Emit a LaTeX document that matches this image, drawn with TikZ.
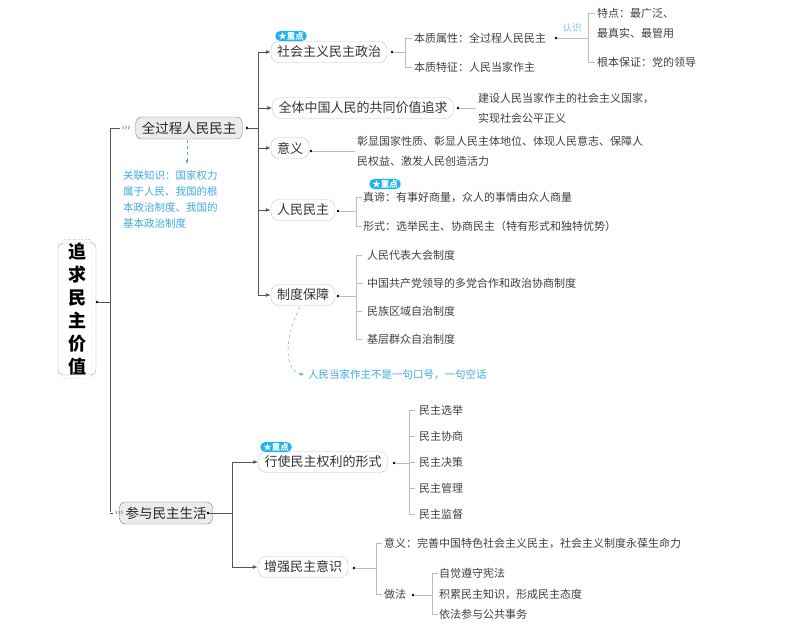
\documentclass[tikz,border=0pt]{standalone}
\usepackage{fontspec}
\setmainfont{Noto Sans CJK SC}
\usetikzlibrary{arrows.meta,positioning}
\definecolor{ln}{HTML}{555555}
\definecolor{lt}{HTML}{BBBBBB}
\definecolor{cy}{HTML}{3FA9E0}
\definecolor{badge}{HTML}{1EB4EC}
\tikzset{
 main/.style={draw=ln!80,fill=gray!15,rounded corners=6pt,font=\fontsize{13.5}{15}\selectfont,inner xsep=6pt,inner ysep=2pt,minimum height=22pt,text=black!85},
 sub/.style={draw=gray!45,fill=white,rounded corners=8pt,font=\fontsize{13}{15}\selectfont,inner xsep=6pt,inner ysep=1pt,minimum height=21pt,text=black!80},
 leaf/.style={anchor=west,font=\fontsize{11}{12}\selectfont,text=black!75,inner sep=1pt},
 tw/.style={leaf,align=left,font=\fontsize{11}{20}\selectfont},
 note/.style={anchor=west,font=\fontsize{10.5}{16}\selectfont,text=cy,align=left,inner sep=0pt},
 badgest/.style={fill=badge,text=white,rounded corners=5pt,font=\bfseries\fontsize{8.5}{9}\selectfont,inner xsep=3pt,inner ysep=1pt},
 trunk/.style={draw=ln,line width=0.9pt},
 arr/.style={trunk,-{Latex[length=5pt,width=4pt]}},
 br/.style={draw=lt,line width=0.6pt},
 dotc/.style={fill=black,circle,inner sep=0.9pt},
}
\begin{document}
\begin{tikzpicture}[x=1pt,y=-1pt]
\useasboundingbox (0,0) rectangle (811,625);
% root
\node[draw=gray!70,rounded corners=5pt,minimum width=38pt,minimum height=132pt,fill=white] (rootbox) at (77,309) {};
\node[draw=black!70,dotted,rounded corners=3pt,minimum width=30pt,minimum height=124pt,align=center,font=\bfseries\fontsize{18}{23}\selectfont] (root) at (77,309) {追\\求\\民\\主\\价\\值};
\node[dotc] (rd) at (97,302) {};
% main nodes
\node[main] (m1) at (189,128) {全过程人民民主};
\node[main] (m2) at (166,513) {参与民主生活};
\draw[trunk] (rd) -- (110,302);
\draw[trunk] (110,128) -- (110,512);
\draw[trunk] (110,128) -- (120,128);
\draw[trunk] (110,513) -- (113,513);
\node[font=\fontsize{9}{9}\selectfont,text=ln] at (126,128) {›››};
\node[font=\fontsize{9}{9}\selectfont,text=ln] at (119,513) {›››};
% level 2 under m1
\node[sub] (a1) at (329,52) {社会主义民主政治};
\node[sub] (a2) at (363,108) {全体中国人民的共同价值追求};
\node[sub] (a3) at (290,148) {意义};
\node[sub] (a4) at (303,210) {人民民主};
\node[sub] (a5) at (303,295) {制度保障};
\node[dotc] (m1d) at (247,128) {};
\draw[trunk] (m1d) -- (258,128);
\draw[trunk] (258,52) -- (258,295);
\foreach \n in {a1,a2,a3,a4,a5}{\draw[arr] (258,0 |- \n.west) -- (\n.west);}
\node[badgest] at (291,36) {★重点};
\node[badgest] at (385,184) {★重点};
% a1 leaves
\node[dotc] (a1d) at (392,52) {};
\draw[br] (a1d) -- (405,52);
\draw[br] (412,38) -- (405,38) -- (405,67) -- (412,67);
\node[leaf] (b1) at (413,38) {本质属性：全过程人民民主};
\node[leaf] (b2) at (413,67) {本质特征：人民当家作主};
\node[dotc] (b1d) at (556,38) {};
\draw[br] (b1d) -- (588,38);
\node[font=\fontsize{9.5}{10}\selectfont,text=cy!70] at (572,28) {认识};
\draw[br] (595,13) -- (588,13) -- (588,62) -- (595,62);
\node[tw] (c1) at (596,23) {特点：最广泛、\\最真实、最管用};
\node[leaf] (c2) at (596,62) {根本保证：党的领导};
% a2
\node[dotc] (a2d) at (458,108) {};
\draw[br] (a2d) -- (476,108);
\node[tw] (a2t) at (477,108) {建设人民当家作主的社会主义国家，\\实现社会公平正义};
% a3
\node[dotc] (a3d) at (311,151) {};
\draw[br] (a3d) -- (355,151);
\node[tw] (a3t) at (356,151) {彰显国家性质、彰显人民主体地位、体现人民意志、保障人\\民权益、激发人民创造活力};
% a4
\node[dotc] (a4d) at (338,211) {};
\draw[br] (a4d) -- (356,211);
\draw[br] (362,197) -- (356,197) -- (356,226) -- (362,226);
\node[leaf] at (362,197) {真谛：有事好商量，众人的事情由众人商量};
\node[leaf] at (362,226) {形式：选举民主、协商民主（特有形式和独特优势）};
% a5
\node[dotc] (a5d) at (338,296) {};
\draw[br] (a5d) -- (356,296);
\draw[br] (362,255) -- (356,255) -- (356,339) -- (362,339);
\draw[br] (356,283) -- (362,283); \draw[br] (356,311) -- (362,311);
\node[leaf] at (366,255) {人民代表大会制度};
\node[leaf] at (366,283) {中国共产党领导的多党合作和政治协商制度};
\node[leaf] at (366,311) {民族区域自治制度};
\node[leaf] at (366,339) {基层群众自治制度};
% notes
\draw[cy,dashed,-{Latex[length=4pt,width=3pt]}] (187,140) -- (187,164);
\node[note] (n1) at (123,199) {关联知识：国家权力\\属于人民、我国的根\\本政治制度、我国的\\基本政治制度};
\draw[cy,dashed,-{Latex[length=4pt,width=3pt]}] (300,307) .. controls (283,340) and (285,370) .. (304,375);
\node[note] (n2) at (308,375) {人民当家作主不是一句口号，一句空话};
% level 2 under m2
\node[sub] (d1) at (323,462) {行使民主权利的形式};
\node[sub] (d2) at (303,567) {增强民主意识};
\node[dotc] (m2d) at (208,513) {};
\draw[trunk] (m2d) -- (232,513);
\draw[trunk] (232,462) -- (232,567);
\foreach \n in {d1,d2}{\draw[arr] (232,0 |- \n.west) -- (\n.west);}
\node[badgest] at (276,447) {★重点};
\node[dotc] (d1d) at (394,463) {};
\draw[br] (d1d) -- (409,463);
\draw[br] (415,410) -- (409,410) -- (409,514) -- (415,514);
\foreach \y/\t in {410/民主选举,436/民主协商,462/民主决策,488/民主管理,514/民主监督}{\draw[br] (409,\y) -- (415,\y); \node[leaf] at (418,\y) {\t};}
\node[dotc] (d2d) at (354,568) {};
\draw[br] (d2d) -- (376,568);
\draw[br] (382,543) -- (376,543) -- (376,594) -- (382,594);
\node[leaf] at (383,543) {意义：完善中国特色社会主义民主，社会主义制度永葆生命力};
\node[leaf] (zf) at (383,594) {做法};
\node[dotc] (zfd) at (413,595) {};
\draw[br] (zfd) -- (432,595);
\draw[br] (438,573) -- (432,573) -- (432,614) -- (438,614);
\node[leaf] at (438,573) {自觉遵守宪法};
\node[leaf] at (438,594) {积累民主知识，形成民主态度};
\node[leaf] at (438,614) {依法参与公共事务};
\end{tikzpicture}
\end{document}
